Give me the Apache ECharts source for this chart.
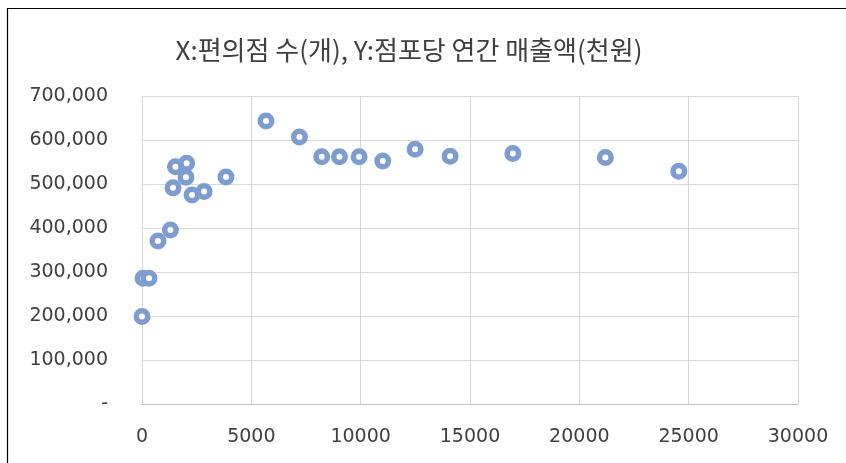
<!DOCTYPE html>
<html><head><meta charset="utf-8">
<script src="https://cdn.jsdelivr.net/npm/echarts@6/dist/echarts.min.js"></script>
<style>html,body{margin:0;padding:0;background:#fff}#c{width:846px;height:463px}</style>
</head><body><div id="c"></div>
<script>
const titleText = 'X:편의점 수(개), Y:점포당 연간 매출액(천원)';
const storeCount = [0, 50, 320, 730, 1300, 1420, 1530, 2040, 2010, 2290, 2840, 3840, 5670, 7200, 8220, 9030, 9930, 11010, 12490, 14090, 16960, 21190, 24550];
const salesPerStore = [199000, 286000, 286000, 371000, 396000, 492000, 540000, 548000, 516000, 476000, 484000, 517000, 644000, 608000, 563000, 563000, 563000, 553000, 580000, 564000, 570000, 561000, 530000];
const xTicks = [0, 5000, 10000, 15000, 20000, 25000, 30000];
const yTicks = [0, 100000, 200000, 300000, 400000, 500000, 600000, 700000];

const points = storeCount.map((x, i) => [x, salesPerStore[i]]);
const chart = echarts.init(document.getElementById('c'), null, {renderer: 'canvas'});
chart.setOption({
  animation: false,
  backgroundColor: '#fff',
  graphic: [{
    type: 'rect', left: 5, top: 6, shape: {width: 850, height: 470},
    style: {fill: 'none', stroke: '#000', lineWidth: 1.2}, silent: true
  }, {
    type: 'text', x: 409, y: 50,
    style: {text: titleText, fill: '#404040', font: '26px "Noto Sans CJK KR"', align: 'center', verticalAlign: 'middle'}
  }],
  grid: {left: 142, right: 48, top: 96.5, bottom: 59},
  xAxis: {
    type: 'value', min: xTicks[0], max: xTicks[xTicks.length - 1], interval: 5000,
    axisLine: {show: true, lineStyle: {color: '#bfbfbf'}},
    axisTick: {show: false},
    splitLine: {show: true, lineStyle: {color: '#d9d9d9'}},
    axisLabel: {color: '#404040', fontSize: 19, fontFamily: 'DejaVu Sans', margin: 24, formatter: v => String(v)}
  },
  yAxis: {
    type: 'value', min: yTicks[0], max: yTicks[yTicks.length - 1], interval: 100000,
    axisLine: {show: false},
    axisTick: {show: false},
    splitLine: {show: true, lineStyle: {color: '#d9d9d9'}},
    axisLabel: {
      color: '#404040', fontSize: 19, fontFamily: 'DejaVu Sans', margin: 34,
      formatter: v => v === 0 ? '-' : v.toLocaleString('en-US')
    }
  },
  series: [{
    type: 'scatter',
    data: points,
    symbol: 'circle',
    symbolSize: 11.5,
    itemStyle: {color: '#ffffff', borderColor: '#7d9dd0', borderWidth: 5.5, opacity: 1}
  }]
});
</script></body></html>
